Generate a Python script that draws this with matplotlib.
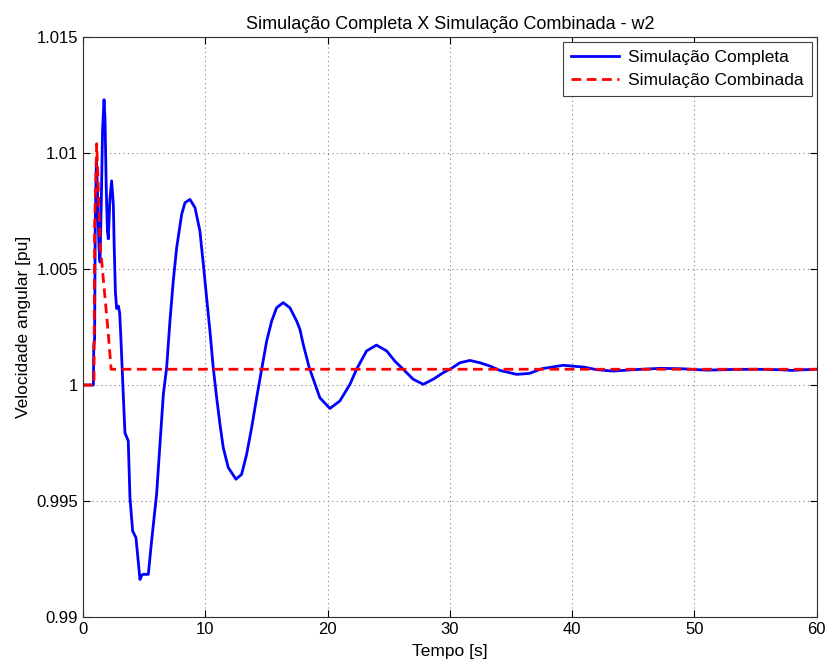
import numpy as np
import matplotlib
matplotlib.use("Agg")
import matplotlib.pyplot as plt

# Simulação completa (w2)
t_comp = [0, 0.85, 0.88, 0.95, 1.0, 1.1, 1.2, 1.3, 1.39, 1.5, 1.6, 1.72, 1.8, 1.9,
          2.0, 2.07, 2.2, 2.34, 2.48, 2.55, 2.65, 2.75, 2.9, 3.0, 3.1, 3.3, 3.43,
          3.7, 3.84, 4.06, 4.33, 4.66, 4.8, 4.93, 5.34, 5.61, 6.02, 6.3, 6.57,
          6.84, 7.11, 7.38, 7.66, 8.07, 8.34, 8.75, 9.16, 9.56, 9.84, 10.11, 10.38,
          10.65, 10.93, 11.2, 11.47, 11.88, 12.51, 12.97, 13.38, 13.79, 14.2,
          14.61, 15.02, 15.43, 15.83, 16.37, 16.92, 17.47, 17.74, 18.01, 18.5,
          19.37, 20.19, 21.0, 21.83, 22.37, 23.19, 24.0, 24.83, 25.5, 26.18, 27.0,
          27.82, 28.64, 29.45, 30.14, 30.82, 31.64, 32.45, 33.27, 34.09, 35.46,
          36.5, 37.5, 39.27, 41.0, 42.0, 43.36, 45.0, 47.2, 49.0, 51.0, 53.0,
          55.0, 57.0, 58.0, 59.0, 60]
w_comp = [1.0, 1.0, 1.0017, 1.0020, 1.0068, 1.0098, 1.0080, 1.0060, 1.0053, 1.0080,
          1.0110, 1.0123, 1.0115, 1.0085, 1.0066, 1.0063, 1.0080, 1.0088, 1.0078,
          1.0060, 1.0040, 1.0033, 1.0034, 1.0031, 1.0020, 0.9995, 0.99794,
          0.99759, 0.99514, 0.99371, 0.99342, 0.99162, 0.99180, 0.99184, 0.99184,
          0.99328, 0.99530, 0.99750, 0.99960, 1.00075, 1.00276, 1.00448, 1.00592,
          1.00736, 1.00786, 1.00800, 1.00764, 1.00664, 1.00520, 1.00376, 1.00233,
          1.00075, 0.99945, 0.99831, 0.99730, 0.99644, 0.99594, 0.99615, 0.99701,
          0.99816, 0.99945, 1.00068, 1.00190, 1.00276, 1.00333, 1.00355, 1.00333,
          1.00276, 1.00240, 1.00175, 1.00075, 0.99945, 0.99899, 0.99931, 1.00003,
          1.00068, 1.00147, 1.00172, 1.00147, 1.00103, 1.00068, 1.00025, 1.00003,
          1.00025, 1.00053, 1.00072, 1.00096, 1.00106, 1.00096, 1.00082, 1.00063,
          1.00046, 1.0005, 1.0007, 1.00085, 1.00077, 1.00066, 1.0006, 1.00066,
          1.00072, 1.0007, 1.00064, 1.00067, 1.00068, 1.00066, 1.00063, 1.00066,
          1.00068]

# Simulação combinada (w2)
t_comb = [0, 0.9, 0.95, 1.12, 1.25, 1.4, 1.5, 2.07, 2.3, 60]
w_comb = [1.0, 1.0, 1.0068, 1.0104, 1.0085, 1.0060, 1.0055, 1.0022, 1.00068, 1.00068]

plt.rcParams['font.family'] = ['Liberation Sans', 'DejaVu Sans']

fig = plt.figure(figsize=(8.3, 6.68), dpi=100)
ax = fig.add_axes([0.1, 0.0763, 0.884, 0.8683])

ax.plot(t_comp, w_comp, color='#0000ff', lw=2, label='Simulação Completa')
ax.plot(t_comb, w_comb, color='#ff0000', lw=2, ls=(0, (3.5, 2)), label='Simulação Combinada')

ax.set_xlim(0, 60)
ax.set_ylim(0.99, 1.015)
ax.set_xticks([0, 10, 20, 30, 40, 50, 60])
ax.set_yticks([0.99, 0.995, 1.0, 1.005, 1.01, 1.015])
ax.set_yticklabels(['0.99', '0.995', '1', '1.005', '1.01', '1.015'])
ax.tick_params(direction='in', labelsize=12, length=5, top=True, right=True)
ax.grid(True, ls=(0, (1, 3)), color='#808080', lw=0.8)
for s in ax.spines.values():
    s.set_color('#303030')

ax.set_title('Simulação Completa X Simulação Combinada - w2', fontsize=13)
ax.set_xlabel('Tempo [s]', fontsize=12.5, labelpad=5)
ax.set_ylabel('Velocidade angular [pu]', fontsize=12.5)

leg = ax.legend(loc='upper right', fontsize=12.5, fancybox=False, framealpha=1,
                edgecolor='#404040', borderaxespad=0.3, handlelength=2.8,
                borderpad=0.45, labelspacing=0.45, handletextpad=0.5)
leg.get_frame().set_linewidth(0.8)

fig.savefig('out.png', dpi=100)
